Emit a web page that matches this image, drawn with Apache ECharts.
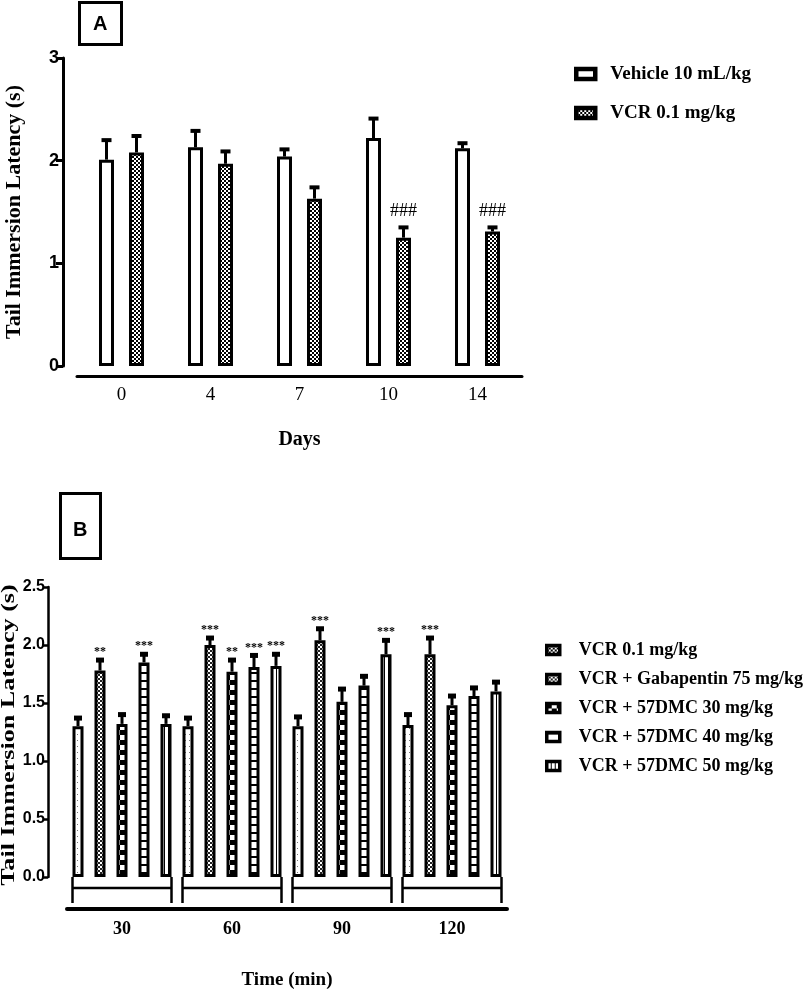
<!DOCTYPE html>
<html>
<head>
<meta charset="utf-8">
<script src="https://cdn.jsdelivr.net/npm/echarts@6/dist/echarts.min.js"></script>
<style>
html, body { margin: 0; padding: 0; background: #fff; }
#main { width: 809px; height: 997px; }
</style>
</head>
<body>
<div id="main"></div>
<script>
// panel A: tail immersion latency over days
var daysA = ['0', '4', '7', '10', '14'];
var vehicleMean = [2.01, 2.13, 2.04, 2.22, 2.12];
var vehicleSem = [0.19, 0.16, 0.07, 0.19, 0.05];
var vcrMean = [2.08, 1.97, 1.63, 1.25, 1.31];
var vcrSem = [0.16, 0.12, 0.11, 0.10, 0.04];
var vcrMarks = ['', '', '', '###', '###'];
var namesA = ['Vehicle 10 mL/kg', 'VCR 0.1 mg/kg'];

// panel B: treatments over time (min)
var timesB = ['30', '60', '90', '120'];
var namesB = ['VCR 0.1 mg/kg', 'VCR + Gabapentin 75 mg/kg', 'VCR + 57DMC 30 mg/kg', 'VCR + 57DMC 40 mg/kg', 'VCR + 57DMC 50 mg/kg'];
var vcrB = [1.30, 1.30, 1.30, 1.31];
var gabaB = [1.78, 2.00, 2.04, 1.92];
var dmc30B = [1.32, 1.77, 1.51, 1.48];
var dmc40B = [1.85, 1.81, 1.65, 1.56];
var dmc50B = [1.32, 1.82, 1.92, 1.60];
var vcrSemB = [0.07, 0.07, 0.08, 0.09];
var gabaSemB = [0.09, 0.06, 0.10, 0.14];
var dmc30SemB = [0.08, 0.10, 0.11, 0.08];
var dmc40SemB = [0.07, 0.10, 0.08, 0.07];
var dmc50SemB = [0.07, 0.10, 0.12, 0.08];
var vcrStarsB = ['', '', '', ''];
var gabaStarsB = ['**', '***', '***', '***'];
var dmc30StarsB = ['', '**', '', ''];
var dmc40StarsB = ['***', '***', '', ''];
var dmc50StarsB = ['', '***', '***', ''];

var serif = '"Liberation Serif", "Times New Roman", serif';
var sans = '"Liberation Sans", Arial, sans-serif';

// small canvas fills for the hatched bars
function makePattern(w, h, draw) {
    var c = document.createElement('canvas');
    c.width = w; c.height = h;
    var g = c.getContext('2d');
    g.fillStyle = '#fff'; g.fillRect(0, 0, w, h);
    g.fillStyle = '#000';
    draw(g);
    return { image: c, repeat: 'repeat' };
}
var checkFine = makePattern(4, 4, function (g) { g.fillRect(0, 0, 2, 2); g.fillRect(2, 2, 2, 2); });
var checkGaba = makePattern(4, 4, function (g) { g.fillStyle = '#222'; g.fillRect(0, 0, 2, 2); g.fillRect(2, 2, 2, 2); });
var dots = makePattern(4, 6, function (g) { g.fillStyle = '#777'; g.fillRect(1, 2, 1, 1); });
var checkCoarse = makePattern(10, 10, function (g) { g.fillRect(0, 0, 5, 5); g.fillRect(5, 5, 5, 5); });
var hLines = makePattern(4, 8, function (g) { g.fillRect(0, 0, 4, 2); });
var vLines = makePattern(4, 4, function (g) { g.fillRect(0, 0, 1, 4); });

function barSeries(name, grid, data, fill, width, gap) {
    return {
        name: name, type: 'bar',
        xAxisIndex: grid, yAxisIndex: grid,
        data: data, barWidth: width, barGap: gap,
        itemStyle: { color: fill, borderColor: '#000', borderWidth: 3 }
    };
}

// upper error bar + significance mark, shifted to sit on its bar
function errSeries(grid, means, sems, marks, shift, cap, markFont, markLift) {
    return {
        type: 'custom',
        xAxisIndex: grid, yAxisIndex: grid,
        encode: { x: 0, y: 1 },
        data: means.map(function (m, i) { return [i, m, sems[i]]; }),
        renderItem: function (params, api) {
            var i = api.value(0), m = api.value(1), e = api.value(2);
            var base = api.coord([i, m]);
            var top = api.coord([i, m + e]);
            var x = base[0] + shift;
            var kids = [
                { type: 'line', shape: { x1: x, y1: base[1], x2: x, y2: top[1] }, style: { stroke: '#000', lineWidth: 3 } },
                { type: 'rect', shape: { x: x - cap[0] / 2, y: top[1] - cap[1] / 2, width: cap[0], height: cap[1] }, style: { fill: '#000' } }
            ];
            var mk = marks[params.dataIndex];
            if (mk) {
                kids.push({
                    type: 'text', x: x, y: top[1] - markLift,
                    style: { text: mk, fill: '#000', font: markFont, align: 'center', verticalAlign: 'bottom' }
                });
            }
            return { type: 'group', children: kids };
        }
    };
}

// bracket under each time group
var bracketSeries = {
    type: 'custom',
    xAxisIndex: 1, yAxisIndex: 1,
    encode: { x: 0, y: 1 },
    data: timesB.map(function (t, i) { return [i, 0]; }),
    renderItem: function (params, api) {
        var c = api.coord([api.value(0), 0]);
        var half = api.size([1, 0])[0] * 0.45;
        var st = { stroke: '#000', lineWidth: 2.5 };
        return {
            type: 'group', children: [
                { type: 'line', shape: { x1: c[0] - half, y1: c[1] + 11, x2: c[0] + half, y2: c[1] + 11 }, style: st },
                { type: 'line', shape: { x1: c[0] - half, y1: c[1], x2: c[0] - half, y2: c[1] + 26 }, style: st },
                { type: 'line', shape: { x1: c[0] + half, y1: c[1], x2: c[0] + half, y2: c[1] + 26 }, style: st }
            ]
        };
    }
};

var chart = echarts.init(document.getElementById('main'));
var option = {
    animation: false,
    backgroundColor: '#fff',
    title: [
        {
            text: 'A', left: 79, top: 2, padding: [12, 14, 11, 14],
            borderColor: '#000', borderWidth: 3,
            textStyle: { fontFamily: sans, fontWeight: 'bold', fontSize: 20, color: '#000' }
        },
        {
            text: 'B', left: 60, top: 493, padding: [27, 13, 19, 13],
            borderColor: '#000', borderWidth: 3,
            textStyle: { fontFamily: sans, fontWeight: 'bold', fontSize: 20, color: '#000' }
        }
    ],
    legend: [
        {
            data: namesA, orient: 'vertical', left: 574, top: 63, padding: 0,
            icon: 'rect', itemWidth: 19, itemHeight: 10, itemGap: 17,
            itemStyle: { borderColor: '#000', borderWidth: 4.5 },
            textStyle: { fontFamily: serif, fontWeight: 'bold', fontSize: 19, color: '#000', lineHeight: 22, padding: [0, 0, 0, 10] }
        },
        {
            data: namesB, orient: 'vertical', left: 545, top: 640, padding: 0,
            icon: 'rect', itemWidth: 13, itemHeight: 9, itemGap: 9,
            itemStyle: { borderColor: '#000', borderWidth: 3.5 },
            textStyle: { fontFamily: serif, fontWeight: 'bold', fontSize: 18, color: '#000', lineHeight: 20, padding: [0, 0, 0, 14] }
        }
    ],
    grid: [
        { left: 77, top: 58, width: 445, height: 308, outerBoundsMode: 'none' },
        { left: 67, top: 587, width: 440, height: 290, outerBoundsMode: 'none' }
    ],
    xAxis: [
        {
            gridIndex: 0, type: 'category', data: daysA, offset: 10,
            axisLine: { onZero: false, lineStyle: { color: '#000', width: 3 } },
            axisTick: { show: false },
            axisLabel: { color: '#000', fontFamily: serif, fontSize: 19, margin: 10 },
            name: 'Days', nameLocation: 'middle', nameGap: 54, nameMoveOverlap: false,
            nameTextStyle: { color: '#000', fontFamily: serif, fontWeight: 'bold', fontSize: 20 }
        },
        {
            gridIndex: 1, type: 'category', data: timesB, offset: 32,
            axisLine: { onZero: false, lineStyle: { color: '#000', width: 4 } },
            axisTick: { show: false },
            axisLabel: { color: '#000', fontFamily: serif, fontWeight: 'bold', fontSize: 18, margin: 11 },
            name: 'Time (min)', nameLocation: 'middle', nameGap: 62, nameMoveOverlap: false,
            nameTextStyle: { color: '#000', fontFamily: serif, fontWeight: 'bold', fontSize: 19 }
        }
    ],
    yAxis: [
        {
            gridIndex: 0, type: 'value', min: 0, max: 3, interval: 1, offset: 14,
            axisLine: { show: true, lineStyle: { color: '#000', width: 3 } },
            axisTick: { show: true, length: 7, lineStyle: { color: '#000', width: 3 } },
            splitLine: { show: false },
            axisLabel: { color: '#000', fontFamily: sans, fontWeight: 'bold', fontSize: 18, margin: 4 },
            name: 'Tail Immersion Latency (s)', nameLocation: 'middle', nameGap: 38, nameMoveOverlap: false,
            nameTextStyle: { color: '#000', fontFamily: serif, fontWeight: 'bold', fontSize: 22 }
        },
        {
            gridIndex: 1, type: 'value', min: 0, max: 2.5, interval: 0.5, offset: 19,
            axisLine: { show: true, lineStyle: { color: '#000', width: 2.5 } },
            axisTick: { show: true, length: 5, lineStyle: { color: '#000', width: 2.5 } },
            splitLine: { show: false },
            axisLabel: {
                color: '#000', fontFamily: sans, fontWeight: 'bold', fontSize: 16, margin: 3,
                formatter: function (v) { return v.toFixed(1); }
            }
        }
    ],
    // the panel B axis title is drawn stretched along its length, as in the source figure
    graphic: [
        {
            type: 'text', x: 9, y: 735, rotation: Math.PI / 2, scaleX: 1.45,
            style: {
                text: 'Tail Immersion Latency (s)', fill: '#000', align: 'center', verticalAlign: 'middle',
                font: 'bold 18px ' + serif
            }
        }
    ],
    series: [
        barSeries(namesA[0], 0, vehicleMean, '#fff', 15, '100%'),
        barSeries(namesA[1], 0, vcrMean, checkFine, 15, '100%'),
        errSeries(0, vehicleMean, vehicleSem, ['', '', '', '', ''], -15, [10, 4], '18px ' + serif, 7),
        errSeries(0, vcrMean, vcrSem, vcrMarks, 15, [10, 4], '18px ' + serif, 7),

        barSeries(namesB[0], 1, vcrB, dots, 11, '100%'),
        barSeries(namesB[1], 1, gabaB, checkGaba, 11, '100%'),
        barSeries(namesB[2], 1, dmc30B, checkCoarse, 11, '100%'),
        barSeries(namesB[3], 1, dmc40B, hLines, 11, '100%'),
        barSeries(namesB[4], 1, dmc50B, vLines, 11, '100%'),
        errSeries(1, vcrB, vcrSemB, vcrStarsB, -44, [8, 5], 'bold 12px ' + serif, 2),
        errSeries(1, gabaB, gabaSemB, gabaStarsB, -22, [8, 5], 'bold 12px ' + serif, 2),
        errSeries(1, dmc30B, dmc30SemB, dmc30StarsB, 0, [8, 5], 'bold 12px ' + serif, 2),
        errSeries(1, dmc40B, dmc40SemB, dmc40StarsB, 22, [8, 5], 'bold 12px ' + serif, 2),
        errSeries(1, dmc50B, dmc50SemB, dmc50StarsB, 44, [8, 5], 'bold 12px ' + serif, 2),
        bracketSeries
    ]
};
chart.setOption(option);
window.onresize = chart.resize;
</script>
</body>
</html>
